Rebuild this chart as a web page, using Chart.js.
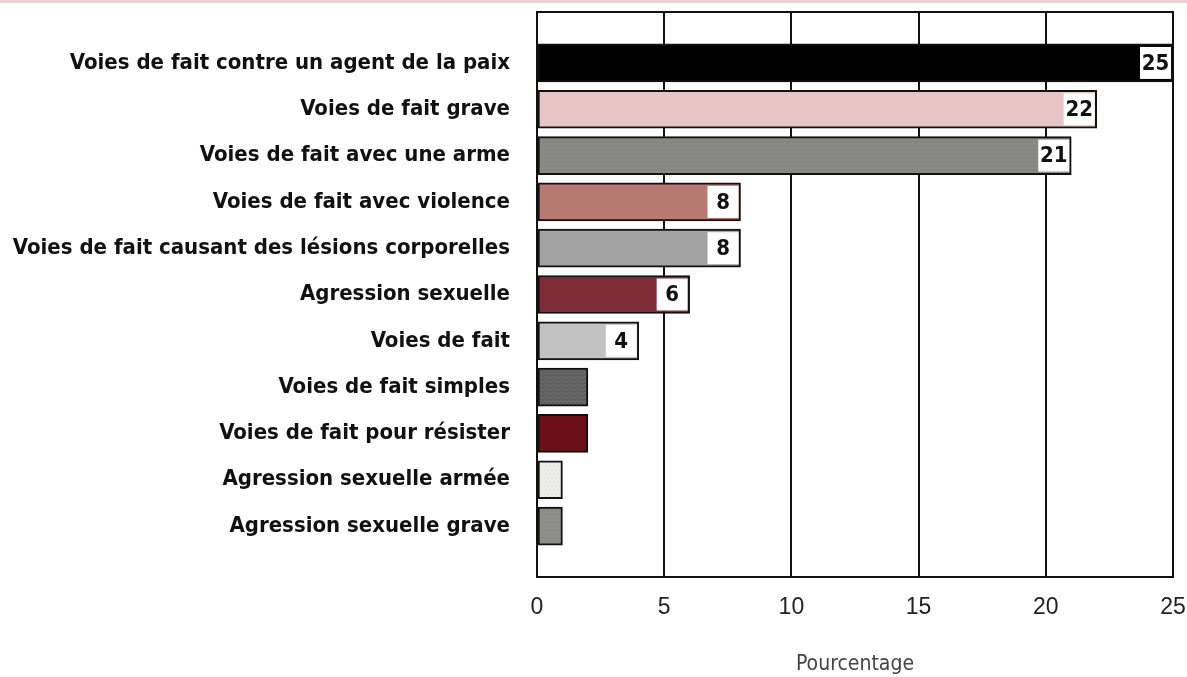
<!DOCTYPE html>
<html>
<head>
<meta charset="utf-8">
<script src="https://cdn.jsdelivr.net/npm/chart.js@4.4.0/dist/chart.umd.min.js"></script>
<style>
html,body{margin:0;padding:0;background:#fff;}
#wrap{width:1187px;height:677px;position:relative;}
</style>
</head>
<body>
<div id="wrap"><canvas id="c" width="1187" height="677"></canvas></div>
<script>
const categories = [
  "Voies de fait contre un agent de la paix",
  "Voies de fait grave",
  "Voies de fait avec une arme",
  "Voies de fait avec violence",
  "Voies de fait causant des lésions corporelles",
  "Agression sexuelle",
  "Voies de fait",
  "Voies de fait simples",
  "Voies de fait pour résister",
  "Agression sexuelle armée",
  "Agression sexuelle grave"
];
const values = [25, 22, 21, 8, 8, 6, 4, 2, 2, 1, 1];
const labelled = [true, true, true, true, true, true, true, false, false, false, false];
const xTicks = [0, 5, 10, 15, 20, 25];
const axisTitle = "Pourcentage";

const NARROW = '"Liberation Sans Narrow", "DejaVu Sans Condensed", "Arial Narrow", sans-serif';

function texture(base, speck, kind) {
  const c = document.createElement('canvas');
  c.width = 4; c.height = 4;
  const g = c.getContext('2d');
  g.fillStyle = base; g.fillRect(0, 0, 4, 4);
  g.fillStyle = speck;
  if (kind === 'zig') {
    g.fillRect(0,0,1,1); g.fillRect(1,1,1,1); g.fillRect(2,2,1,1); g.fillRect(3,1,1,1);
  } else {
    g.fillRect(0,0,1,1); g.fillRect(2,2,1,1); g.fillRect(3,0,1,1); g.fillRect(1,3,1,1);
  }
  return g.createPattern(c, 'repeat');
}

const colors = [
  '#000000',
  '#e8c5c5',
  texture('#858580', '#929290', 'dot'),
  '#b77a72',
  '#a2a2a2',
  '#7e2b36',
  '#c2c2c2',
  texture('#5e5e5e', '#727272', 'zig'),
  '#6b0f19',
  texture('#e8e8e4', '#f2f2f0', 'dot'),
  texture('#8a8a86', '#969692', 'dot')
];

const topBand = {
  id: 'topBand',
  beforeDraw(chart) {
    const ctx = chart.ctx;
    ctx.save();
    ctx.fillStyle = '#ebd2d5';
    ctx.fillRect(0, 0, chart.width, 3);
    ctx.restore();
  },
  afterDraw(chart) {
    const a = chart.chartArea, ctx = chart.ctx;
    ctx.save();
    ctx.strokeStyle = '#111';
    ctx.lineWidth = 2;
    ctx.beginPath();
    ctx.moveTo(a.left - 1, a.top);
    ctx.lineTo(a.right + 1, a.top);
    ctx.stroke();
    ctx.restore();
  }
};

const valueBoxes = {
  id: 'valueBoxes',
  afterDatasetsDraw(chart) {
    const ctx = chart.ctx;
    const meta = chart.getDatasetMeta(0);
    ctx.save();
    meta.data.forEach((bar, i) => {
      if (!labelled[i]) return;
      const bw = 2;
      const w = 31;
      const h = bar.height - 2 * bw - 2;
      const right = bar.x - bw;
      const top = bar.y - h / 2;
      ctx.fillStyle = '#ffffff';
      ctx.fillRect(right - w, top, w, h);
      ctx.fillStyle = '#111';
      ctx.font = 'bold 22px ' + NARROW;
      ctx.textAlign = 'center';
      ctx.textBaseline = 'middle';
      ctx.fillText(String(values[i]), right - w / 2, bar.y + 1);
    });
    ctx.restore();
  }
};

new Chart(document.getElementById('c'), {
  type: 'bar',
  data: {
    datasets: [{
      data: values.map((v, i) => ({ x: v, y: i })),
      backgroundColor: colors,
      borderColor: '#111',
      borderWidth: 2,
      borderSkipped: false,
      barThickness: 38
    }]
  },
  options: {
    indexAxis: 'y',
    responsive: false,
    animation: false,
    layout: { padding: { top: 12, right: 14, left: 0, bottom: 0 } },
    plugins: { legend: { display: false }, tooltip: { enabled: false } },
    scales: {
      x: {
        type: 'linear',
        min: 0, max: 25,
        afterBuildTicks(scale) { scale.ticks = xTicks.map(v => ({ value: v })); },
        grid: { color: '#111', lineWidth: 2, drawTicks: true, tickLength: 19, tickColor: 'rgba(0,0,0,0)' },
        border: { display: true, color: '#111', width: 2 },
        ticks: { padding: 0, color: '#222', font: { family: '"Liberation Sans", Arial, sans-serif', size: 23, lineHeight: 1 } },
        title: { display: true, text: axisTitle, color: '#444', font: { family: NARROW, size: 21 }, padding: { top: 10, bottom: 0 } },
        afterFit(scale) { scale.height = 100; }
      },
      y: {
        type: 'linear',
        reverse: true,
        offset: false,
        min: -1.1, max: 11.1,
        afterBuildTicks(scale) { scale.ticks = categories.map((c, i) => ({ value: i })); },
        grid: { display: true, offset: false, drawOnChartArea: false, drawTicks: true, tickLength: 27, tickColor: 'rgba(0,0,0,0)', color: 'rgba(0,0,0,0)' },
        border: { display: true, color: '#111', width: 2 },
        ticks: {
          padding: 0,
          color: '#111',
          autoSkip: false,
          font: { family: NARROW, size: 22, weight: 'bold', lineHeight: 1 },
          callback: (v) => categories[v]
        },
        afterFit(scale) { scale.width = 537; }
      }
    }
  },
  plugins: [topBand, valueBoxes]
});
</script>
</body>
</html>
